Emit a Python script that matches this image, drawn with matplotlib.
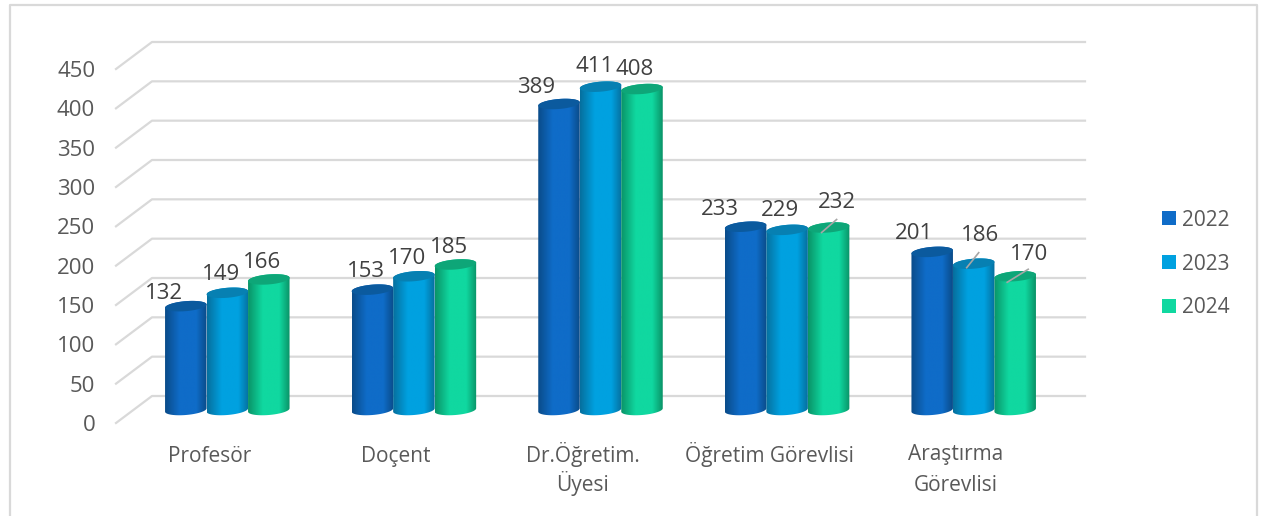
import numpy as np
import matplotlib
matplotlib.use('Agg')
import matplotlib.pyplot as plt
from matplotlib.colors import LinearSegmentedColormap
from matplotlib.patches import Patch, PathPatch
from matplotlib.path import Path
from matplotlib.transforms import ScaledTranslation

plt.rcParams['font.family'] = ['Open Sans', 'DejaVu Sans']

categories = ['Profesör', 'Doçent', 'Dr.Öğretim.\nÜyesi', 'Öğretim Görevlisi', 'Araştırma\nGörevlisi']
years = ['2022', '2023', '2024']
values_2022 = [132, 153, 389, 233, 201]
values_2023 = [149, 170, 411, 229, 186]
values_2024 = [166, 185, 408, 232, 170]
series = [values_2022, values_2023, values_2024]
yticks = [0, 50, 100, 150, 200, 250, 300, 350, 400, 450]

# colours for each series: edge, body, cap
colors = [('#0A4C8A', '#0F6CC8', '#0B5A9E'),
          ('#06709F', '#00A1E0', '#0780B2'),
          ('#0A9468', '#10D8A0', '#0EA678')]

# value label offsets from the bar top, in pixels
label_offsets = [[(-22, 13), (-6, 19), (-7, 18)],
                 [(-6, 19), (-7, 19), (-6, 18)],
                 [(-23, 17), (-6, 21), (-7, 20)],
                 [(-26, 18), (-7, 20), (8, 26)],
                 [(-18, 19), (6, 29), (14, 23)]]
# leader lines: (category, series): start and end offset from the bar top, pixels
leaders = {(3, 2): ((-7, -5), (8, 8)),
           (4, 1): ((-7, -4), (5, 11)),
           (4, 2): ((-8, -6), (13, 7))}
# line gaps differ with the glyphs of each label
label_spacing = [1.2, 1.2, 1.2, 1.2, 1.6]
# baseline alignment uses the last line, so two-line labels go down by one line (pixels)
label_shift = [0, 0, 29, 0, 29]

fig = plt.figure(figsize=(12.62, 5.16), dpi=100)
W, H = 1262, 516
ax = fig.add_axes([116 / W, 1 - 423 / H, 933 / W, 354 / H])
ax.set_xlim(-0.5, 4.5)
ax.set_ylim(0, 450)

px_x = 5 / 933        # category units per pixel
px_y = 450 / 354      # value units per pixel
depth_x = 36 * px_x
depth_y = 27 * px_y
base_y = 13 * px_y
bar_w = 41.5 * px_x
ry = 5 * px_y
shear = 0.08 * px_y / px_x

# chart border, open at the bottom where the picture is cut off
border_x = [9.5 / W, 9.5 / W, 1256.5 / W, 1256.5 / W]
border_y = [0, 1 - 5 / H, 1 - 5 / H, 0]
fig.add_artist(plt.Line2D(border_x, border_y, color='#D9D9D9', linewidth=1.6,
                          transform=fig.transFigure))

# gridlines, front edge going back to the wall
for v in yticks:
    ax.plot([-0.5, -0.5 + depth_x, 4.5 + depth_x], [v, v + depth_y, v + depth_y],
            color='#D9D9D9', linewidth=1.6, clip_on=False, zorder=1)


def ellipse(cx, y):
    t = np.linspace(0, 2 * np.pi, 80)
    return cx + bar_w / 2 * np.cos(t), y + ry * np.sin(t) + shear * bar_w / 2 * np.cos(t)


def cylinder(cx, v, edge, body, cap, z):
    top = base_y + v
    t = np.linspace(0, np.pi, 40)
    # bottom half of the base ellipse, then back up over the top
    bx = cx + bar_w / 2 * np.cos(t)
    by = base_y + shear * bar_w / 2 * np.cos(t) - ry * np.sin(t)
    tx = cx - bar_w / 2 * np.cos(t)
    ty = top - shear * bar_w / 2 * np.cos(t) + ry * np.sin(t)
    outline = np.column_stack([np.r_[bx, tx], np.r_[by, ty]])
    clip = PathPatch(Path(np.vstack([outline, outline[:1]])), transform=ax.transData,
                     facecolor='none', edgecolor='none')
    ax.add_patch(clip)
    cmap = LinearSegmentedColormap.from_list('c', [(0, edge), (0.35, body), (0.75, body), (1, edge)])
    im = ax.imshow(np.linspace(0, 1, 60).reshape(1, -1), cmap=cmap, aspect='auto',
                   extent=(cx - bar_w / 2, cx + bar_w / 2, base_y - 3 * ry, top + 3 * ry),
                   interpolation='bilinear', zorder=z)
    im.set_clip_path(clip)
    ex, ey = ellipse(cx, top)
    ax.fill(ex, ey, color=cap, linewidth=0, zorder=z + 0.1)


for i in range(len(categories)):
    for s, vals in enumerate(series):
        cx = i + depth_x / 2 + (s - 1) * bar_w
        edge, body, cap = colors[s]
        cylinder(cx, vals[i], edge, body, cap, 3 + s * 0.2)
        top = base_y + vals[i]
        dx, dy = label_offsets[i][s]
        ax.text(cx + dx * px_x, top + dy * px_y - 1, str(vals[i]), ha='center', va='center',
                fontsize=16, color='#404040', zorder=6)
        if (i, s) in leaders:
            (x0, y0), (x1, y1) = leaders[(i, s)]
            ax.plot([cx + x0 * px_x, cx + x1 * px_x], [top + y0 * px_y, top + y1 * px_y],
                    color='#A6A6A6', linewidth=1.2, zorder=5)

ax.set_xlim(-0.5, 4.5)
ax.set_ylim(0, 450)
ax.patch.set_visible(False)
for sp in ax.spines.values():
    sp.set_visible(False)

ax.set_yticks(yticks)
ax.set_xticks(range(len(categories)))
ax.set_xticklabels(categories, va='baseline')
ax.tick_params(axis='y', length=0, pad=15, labelsize=16, labelcolor='#595959')
ax.tick_params(axis='x', length=0, pad=28, labelsize=15, labelcolor='#595959')
for lab, ls, shift in zip(ax.get_xticklabels(), label_spacing, label_shift):
    lab.set_linespacing(ls)
    lab.set_transform(lab.get_transform() + ScaledTranslation(0, -shift / 100, fig.dpi_scale_trans))

handles = [Patch(facecolor=colors[s][1], label=years[s]) for s in range(3)]
ax.legend(handles=handles, loc='center left', bbox_to_anchor=(1162 / W, 1 - 264 / H),
          bbox_transform=fig.transFigure, frameon=False, fontsize=15, labelcolor='#595959',
          handlelength=0.67, handleheight=0.67, handletextpad=0.27, labelspacing=1.1,
          borderpad=0, borderaxespad=0)

fig.savefig('out.png', dpi=100, facecolor='white')
